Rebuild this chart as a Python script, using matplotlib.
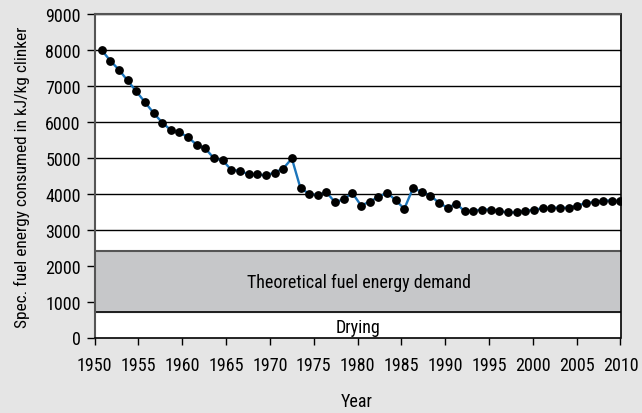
import numpy as np
import matplotlib
matplotlib.use("Agg")
import matplotlib.pyplot as plt

plt.rcParams['font.family'] = ['Roboto Condensed', 'DejaVu Sans']

values = [8000, 7700, 7450, 7150, 6850, 6550, 6250, 5980, 5770, 5710,
          5570, 5360, 5260, 4980, 4930, 4660, 4640, 4540, 4540, 4510,
          4590, 4700, 4980, 4150, 4000, 3960, 4040, 3760, 3850, 4020,
          3670, 3780, 3910, 4030, 3820, 3580, 4150, 4060, 3950, 3750,
          3610, 3720, 3510, 3530, 3560, 3560, 3510, 3480, 3480, 3520,
          3560, 3590, 3610, 3610, 3610, 3670, 3740, 3770, 3810, 3810,
          3790]
years = np.linspace(1950.8, 2010, len(values))
theory_band = (700, 2400)
xticks = list(range(1950, 2011, 5))
yticks = list(range(0, 9001, 1000))

W, H = 642, 414
fig = plt.figure(figsize=(W / 100, H / 100), dpi=100)
fig.patch.set_facecolor('#e5e5e5')
ax = fig.add_axes([94.6 / W, 1 - 338.5 / H, (620.5 - 94.6) / W, (338.5 - 15) / H])
ax.set_facecolor('white')

ax.set_xlim(1950, 2010)
ax.set_ylim(0, 9000)
for y in yticks[1:]:
    ax.axhline(y, color='black', lw=1.0, zorder=1)
ax.axhspan(theory_band[0], theory_band[1], color='#c6c7c9', zorder=1.5)
ax.axhline(theory_band[1], color='#555555', lw=1.5, zorder=1.6)
ax.axhline(theory_band[0], color='black', lw=1.2, zorder=1.6)

ax.text(1980.2, 1400, 'Theoretical fuel energy demand', ha='center', va='baseline', fontsize=13)
ax.text(1980.0, 150, 'Drying', ha='center', va='baseline', fontsize=13)

ax.plot(years, values, color='#1b75bb', lw=1.7, zorder=3)
ax.plot(years, values, 'o', color='black', ms=5.3, zorder=4)

ax.set_xticks(xticks)
ax.set_yticks(yticks)
ax.tick_params(axis='y', labelsize=13, length=6, width=1, direction='out', pad=4)
ax.tick_params(axis='x', labelsize=13, length=5, width=1, direction='out', pad=8)
for s in ['left', 'top']:
    ax.spines[s].set_color('#555555')
    ax.spines[s].set_linewidth(1.5)
ax.spines['right'].set_color('black')
ax.spines['right'].set_linewidth(1.2)
ax.spines['bottom'].set_color('black')
ax.spines['bottom'].set_linewidth(1.2)

fig.text(357 / W, 1 - 407 / H, 'Year', ha='center', va='baseline', fontsize=13)
fig.text(27 / W, 1 - 177.5 / H, 'Spec. fuel energy consumed in kJ/kg clinker',
         ha='center', va='baseline', rotation=90, rotation_mode='anchor', fontsize=12.4)

fig.savefig('out.png', dpi=100, facecolor=fig.get_facecolor())
